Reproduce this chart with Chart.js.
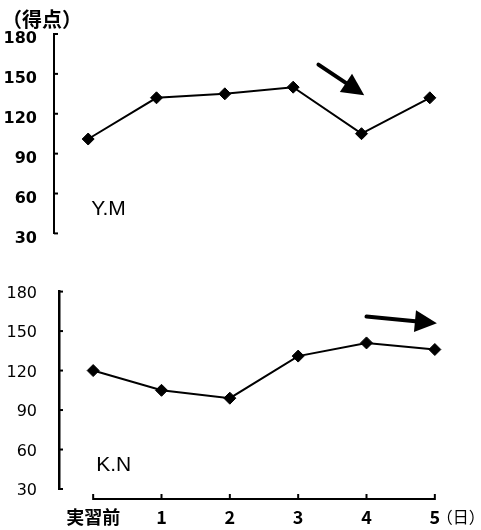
<!DOCTYPE html>
<html><head><meta charset="utf-8">
<script src="https://cdn.jsdelivr.net/npm/chart.js@4.4.0/dist/chart.umd.min.js"></script>
<style>
html,body{margin:0;padding:0;background:#fff;}
#wrap{position:relative;width:481px;height:530px;}
.box{position:absolute;left:0;width:481px;}
</style></head><body>
<div id="wrap">
<div class="box" style="top:0;height:260px"><canvas id="c1"></canvas></div>
<div class="box" style="top:260px;height:270px"><canvas id="c2"></canvas></div>
</div>
<script>
const categories = ['実習前', '1', '2', '3', '4', '5'];
const scoresYM = [101, 132, 135, 140, 105, 132];
const scoresKN = [120, 105, 99, 131, 141, 136];
const yTicks = [30, 60, 90, 120, 150, 180];
const yAxisTitle = '（得点）';
const xAxisTitle = '（日）';
const panelNames = ['Y.M', 'K.N'];
// arrow annotations in data units: [xIndexFrom, yFrom, xIndexTo, yTo]
const arrowYM = [3.37, 157, 4.04, 134];
const arrowKN = [4.0, 161, 5.03, 156];

const CJK = '"Noto Sans CJK JP", sans-serif';

function drawArrow(ctx, xs, ys, a) {
  const x0 = xs.getPixelForValue(a[0]), y0 = ys.getPixelForValue(a[1]);
  const x1 = xs.getPixelForValue(a[2]), y1 = ys.getPixelForValue(a[3]);
  const ang = Math.atan2(y1 - y0, x1 - x0);
  const hl = 22, hw = 11;
  const bx = x1 - Math.cos(ang) * hl, by = y1 - Math.sin(ang) * hl;
  ctx.save();
  ctx.strokeStyle = '#000'; ctx.fillStyle = '#000';
  ctx.lineWidth = 4; ctx.lineCap = 'round';
  ctx.beginPath(); ctx.moveTo(x0, y0); ctx.lineTo(bx + Math.cos(ang) * 3, by + Math.sin(ang) * 3); ctx.stroke();
  ctx.beginPath();
  ctx.moveTo(x1, y1);
  ctx.lineTo(bx - Math.sin(ang) * hw, by + Math.cos(ang) * hw);
  ctx.lineTo(bx + Math.sin(ang) * hw, by - Math.cos(ang) * hw);
  ctx.closePath(); ctx.fill();
  ctx.restore();
}

function makePlugin(opts) {
  return {
    id: 'deco' + opts.idx,
    afterDatasetsDraw(chart) {
      const ctx = chart.ctx, xs = chart.scales.x, ys = chart.scales.y;
      const ax = chart.chartArea.left;
      ctx.save();
      ctx.strokeStyle = '#000';
      ctx.lineWidth = 2;
      // inward y ticks
      yTicks.forEach(v => {
        const py = ys.getPixelForValue(v);
        ctx.beginPath(); ctx.moveTo(ax, py); ctx.lineTo(ax + 4, py); ctx.stroke();
      });
      // x axis (bottom panel only)
      if (opts.xAxis) {
        const yb = chart.chartArea.bottom + 10;
        const xa = xs.getPixelForValue(0), xb = xs.getPixelForValue(categories.length - 1);
        ctx.beginPath(); ctx.moveTo(xa, yb); ctx.lineTo(xb, yb); ctx.stroke();
        categories.forEach((c, i) => {
          const px = xs.getPixelForValue(i);
          ctx.beginPath(); ctx.moveTo(px, yb + 1); ctx.lineTo(px, yb - 5); ctx.stroke();
        });
        ctx.fillStyle = '#000';
        ctx.font = '16px ' + CJK;
        ctx.textAlign = 'left'; ctx.textBaseline = 'middle';
        ctx.fillText(xAxisTitle, xb + 2, yb + 18);
      }
      // panel name
      ctx.fillStyle = '#000';
      ctx.font = '21px "Liberation Sans", Arial, sans-serif';
      ctx.textAlign = 'left'; ctx.textBaseline = 'middle';
      ctx.fillText(opts.name, xs.getPixelForValue(0) + 3, ys.getPixelForValue(48));
      // y title
      if (opts.yTitle) {
        ctx.font = 'bold 20px ' + CJK;
        ctx.fillText(yAxisTitle, 2, 19);
      }
      drawArrow(ctx, xs, ys, opts.arrow);
      ctx.restore();
    }
  };
}

function makeChart(id, data, opts) {
  return new Chart(document.getElementById(id), {
    type: 'line',
    data: {
      labels: categories,
      datasets: [{
        data: data,
        borderColor: '#000', borderWidth: 2,
        pointStyle: 'rectRot', pointRadius: 6, pointHoverRadius: 6,
        pointBackgroundColor: '#000', pointBorderColor: '#000', pointBorderWidth: 1,
        tension: 0, fill: false
      }]
    },
    options: {
      responsive: true, maintainAspectRatio: false, animation: false,
      layout: { padding: opts.padding },
      plugins: { legend: { display: false }, tooltip: { enabled: false } },
      scales: {
        x: opts.xAxis ? {
          type: 'category', offset: true,
          grid: { display: false, drawTicks: false },
          border: { display: false },
          ticks: { color: '#000', font: { family: CJK, size: 18, weight: 'bold' }, padding: 17, autoSkip: false, maxRotation: 0 },
          afterFit: s => { s.height = opts.xHeight; }
        } : { type: 'category', offset: true, display: false },
        y: {
          min: 30, max: 180,
          afterBuildTicks: s => { s.ticks = yTicks.map(v => ({ value: v })); },
          grid: { display: false, drawTicks: false },
          border: { display: true, color: '#000', width: opts.axisW },
          ticks: { color: '#000', font: { family: 'DejaVu Sans', size: 16, weight: opts.tickWeight }, padding: opts.yPad, labelOffset: opts.labelOffset },
          afterFit: s => { s.width = opts.yWidth; }
        }
      }
    },
    plugins: [makePlugin(opts)]
  });
}

makeChart('c1', scoresYM, {
  idx: 1, name: panelNames[0], arrow: arrowYM, yTitle: true, xAxis: false,
  padding: { top: 34, bottom: 19, left: 0, right: 17 },
  yWidth: 54, yPad: 17, labelOffset: 5, tickWeight: 'bold', axisW: 2
});
makeChart('c2', scoresKN, {
  idx: 2, name: panelNames[1], arrow: arrowKN, yTitle: false, xAxis: true,
  padding: { top: 23, bottom: 0, left: 0, right: 12 },
  yWidth: 59, yPad: 22, labelOffset: 2, tickWeight: 'normal', axisW: 2.5, xHeight: 41
});
</script>
</body></html>
